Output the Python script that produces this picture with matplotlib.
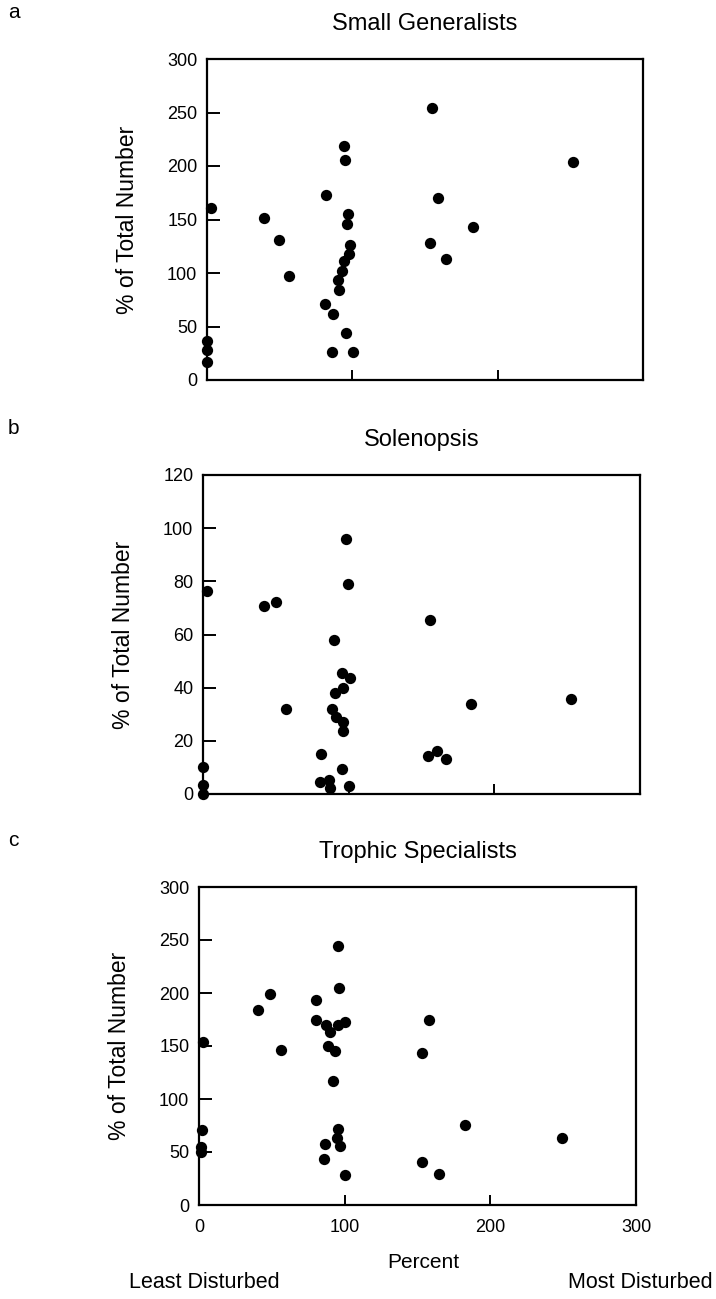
import matplotlib
matplotlib.use('Agg')
import matplotlib.pyplot as plt

plt.rcParams['font.family'] = ['Liberation Sans', 'DejaVu Sans']

# Small Generalists (panel a)
gen_x = [2.5, 0, 0, 0, 39.5, 49.4, 56.4, 82.2, 81.5, 87, 86, 94.5, 95, 96.8, 96.3,
         98.6, 97.7, 94.2, 92.8, 89.8, 90.5, 95.6, 100.2, 154.5, 159, 153.3, 164.2,
         182.7, 252]
gen_y = [161, 36.6, 28, 16.6, 151.6, 131, 97, 172.8, 71, 62, 26.6, 218.8, 206, 154.7,
         146, 126.6, 117.8, 111, 102, 93.8, 83.8, 43.8, 26.6, 254, 169.7, 127.8, 113,
         142.8, 204]

# Solenopsis (panel b)
sol_x = [2.8, 0, 0, 0, 41.6, 50.4, 57.3, 98.3, 99.7, 90.2, 95.3, 100.6, 96, 90.9,
         88.3, 91.3, 96, 96.2, 80.9, 95.3, 80.2, 86.7, 87.2, 100.1, 155.6, 154.5,
         160.7, 166.5, 184.3, 252.5]
sol_y = [76.3, 10, 3.4, 0, 70.6, 72.1, 31.9, 95.9, 79, 57.8, 45.6, 43.5, 40, 37.9,
         32.1, 29, 26.9, 23.8, 15, 9.4, 4.4, 5.3, 2.1, 2.9, 65.6, 14.4, 16.3, 13.1,
         34, 35.6]

# Trophic Specialists (panel c)
tro_x = [95.5, 96, 48.7, 40.7, 80, 2.7, 56.5, 80.1, 87.1, 90.1, 95.1, 100, 88.9,
         93.5, 91.9, 157.7, 153.4, 2, 1.4, 1.4, 95.1, 94.6, 96.5, 86.6, 85.9, 100.3,
         152.9, 164.8, 182.9, 249.4]
tro_y = [244.7, 204.7, 199.4, 184.4, 193.8, 154.1, 146.2, 174.7, 169.6, 163.3, 169.6,
         172.2, 150, 145.3, 117.4, 174.7, 143.7, 70.9, 54.4, 50.3, 71.5, 63.6, 55.7,
         57.6, 43.4, 28.2, 40.2, 29.7, 75.6, 63.6]

x_ticks = [0, 100, 200, 300]

W, H = 716, 1299
fig = plt.figure(figsize=(W / 100, H / 100), dpi=100)


def px_axes(left, right, top, bottom):
    return fig.add_axes([left / W, 1 - bottom / H, (right - left) / W, (bottom - top) / H])


panels = [
    ('a', 'Small Generalists', gen_x, gen_y, 300, [0, 50, 100, 150, 200, 250, 300],
     (207, 643, 59, 380)),
    ('b', 'Solenopsis', sol_x, sol_y, 120, [0, 20, 40, 60, 80, 100, 120],
     (203, 640, 475, 794)),
    ('c', 'Trophic Specialists', tro_x, tro_y, 300, [0, 50, 100, 150, 200, 250, 300],
     (199, 636, 887, 1205)),
]

for i, (letter, title, xs, ys, ymax, yticks, box) in enumerate(panels):
    ax = px_axes(*box)
    ax.scatter(xs, ys, s=66, color='black', linewidths=0, clip_on=False, zorder=3)
    ax.set_xlim(0, 300)
    ax.set_ylim(0, ymax)
    ax.set_yticks(yticks)
    ax.set_xticks(x_ticks)
    for sp in ax.spines.values():
        sp.set_linewidth(1.6)
    ax.tick_params(axis='y', direction='in', length=9, width=1.4, pad=7, labelsize=13)
    ax.tick_params(axis='x', direction='in', length=7, width=1.4, pad=10, labelsize=13)
    if i < 2:
        ax.set_xticklabels([])
    ax.set_ylabel('% of Total Number', fontsize=16.5)
    ax.yaxis.set_label_coords(-0.155, 0.5)
    left, right, top, bottom = box
    fig.text((left + right) / 2 / W, 1 - (top - 35) / H, title, ha='center', va='center',
             fontsize=17)
    fig.text(8 / W, 1 - (top - 46) / H, letter, ha='left', va='center', fontsize=15)

fig.text(423 / W, 1 - 1262 / H, 'Percent', ha='center', va='center', fontsize=15)
fig.text(204 / W, 1 - 1283 / H, 'Least Disturbed', ha='center', va='center', fontsize=15.5)
fig.text(640 / W, 1 - 1283 / H, 'Most Disturbed', ha='center', va='center', fontsize=15.5)

fig.savefig('out.png', dpi=100)
